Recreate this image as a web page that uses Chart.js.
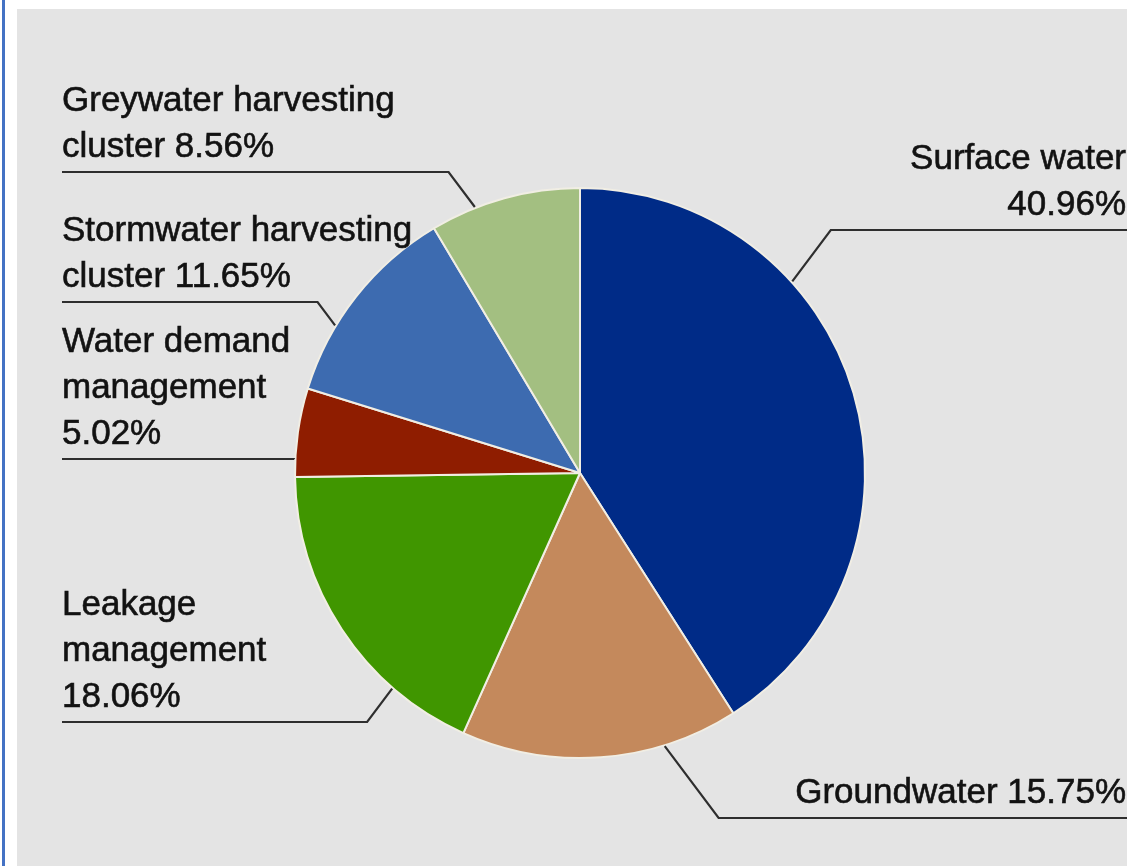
<!DOCTYPE html>
<html>
<head>
<meta charset="utf-8">
<script src="https://cdn.jsdelivr.net/npm/chart.js@4.4.1/dist/chart.umd.min.js"></script>
<style>
  html, body { margin: 0; padding: 0; background: #ffffff; }
  body { width: 1127px; height: 866px; position: relative; overflow: hidden; }
  #bar { position: absolute; left: 2px; top: 0; width: 3px; height: 866px; background: #4472c4; }
  #panel { position: absolute; left: 17px; top: 9px; right: 0; bottom: 0; background: #e4e4e4; }
  #wrap { position: absolute; left: 0; top: 0; width: 1127px; height: 866px; }
</style>
</head>
<body>
<div id="bar"></div>
<div id="panel"></div>
<div id="wrap"><canvas id="pie"></canvas></div>
<script>
  // Data: shares of the water supply options (%)
  const categories = ['Surface water', 'Groundwater', 'Leakage management', 'Water demand management', 'Stormwater harvesting cluster', 'Greywater harvesting cluster'];
  const shares = [40.96, 15.75, 18.06, 5.02, 11.65, 8.56];
  const sliceColors = ['#002b87', '#c4895c', '#409600', '#8f1d00', '#3d6bb0', '#a3bf81'];

  // Label text lines (as printed in the figure)
  const labelLines = [
    ['Surface water', '40.96%'],
    ['Groundwater 15.75%'],
    ['Leakage', 'management', '18.06%'],
    ['Water demand', 'management', '5.02%'],
    ['Stormwater harvesting', 'cluster 11.65%'],
    ['Greywater harvesting', 'cluster 8.56%']
  ];

  // Leader line layout: where on the slice the line starts, side, and y of the horizontal rule
  const anchorFrac = [0.325, 0.27, 0.26, 0.2, 0.33, 0.3];
  const labelSide = ['right', 'right', 'left', 'left', 'left', 'left'];
  const ruleY = [230, 818, 722, 459, 302, 172];

  const FONT = '35px "Liberation Sans", Arial, sans-serif';
  const LINE_H = 46;

  // Helper: draw labels with elbow leader lines
  const leaderLabels = {
    id: 'leaderLabels',
    afterDraw(chart) {
      const ctx = chart.ctx;
      const meta = chart.getDatasetMeta(0);
      ctx.save();
      ctx.font = FONT;
      ctx.textBaseline = 'middle';
      meta.data.forEach((arc, i) => {
        const a = arc.startAngle + anchorFrac[i] * (arc.endAngle - arc.startAngle);
        const r = arc.outerRadius + 1;
        const ax = arc.x + r * Math.cos(a);
        const ay = arc.y + r * Math.sin(a);
        const y = ruleY[i];
        const right = labelSide[i] === 'right';
        const ex = ax + (right ? 1 : -1) * 0.75 * Math.abs(y - ay);
        ctx.strokeStyle = '#2e2e2e';
        ctx.lineWidth = 2.2;
        ctx.beginPath();
        ctx.moveTo(ax, ay);
        ctx.lineTo(ex, y);
        ctx.lineTo(right ? 1127 : 62, y);
        ctx.stroke();

        const lines = labelLines[i];
        ctx.textAlign = right ? 'right' : 'left';
        ctx.fillStyle = '#121212';
        ctx.strokeStyle = '#121212';
        ctx.lineWidth = 0.6;
        const tx = right ? 1126 : 62;
        lines.forEach((t, k) => {
          const ty = y - 25 - (lines.length - 1 - k) * LINE_H;
          ctx.fillText(t, tx, ty);
          ctx.strokeText(t, tx, ty);
        });
      });
      ctx.restore();
    }
  };

  new Chart(document.getElementById('pie').getContext('2d'), {
    type: 'pie',
    data: {
      labels: categories,
      datasets: [{
        data: shares,
        backgroundColor: sliceColors,
        borderColor: '#f1eee4',
        borderWidth: 2
      }]
    },
    options: {
      responsive: true,
      maintainAspectRatio: false,
      animation: false,
      layout: { padding: { top: 187, bottom: 107, left: 294, right: 261 } },
      plugins: {
        legend: { display: false },
        tooltip: { enabled: false }
      }
    },
    plugins: [leaderLabels]
  });
</script>
</body>
</html>
